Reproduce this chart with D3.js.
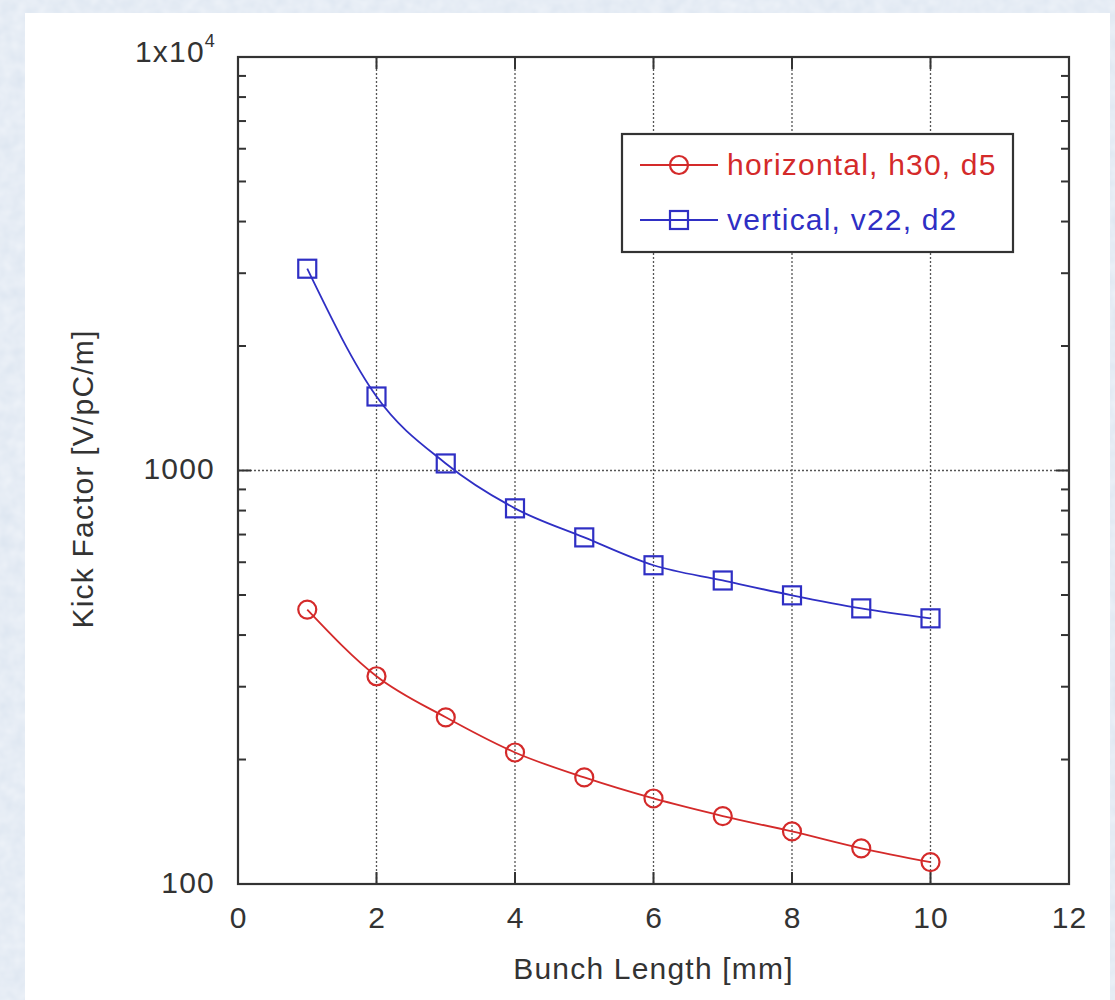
<!DOCTYPE html>
<html>
<head>
<meta charset="utf-8">
<script src="https://cdn.jsdelivr.net/npm/d3@7"></script>
<style>
  body { margin: 0; background: #e0e8f2; }
  svg { display: block; }
  text { font-family: "Liberation Sans", Arial, sans-serif; fill: #333; letter-spacing: 1.2px; }
</style>
</head>
<body>
<div id="chart"></div>
<script>
// bunch length [mm]
var bunchLength = [1, 2, 3, 4, 5, 6, 7, 8, 9, 10];
// kick factor [V/pC/m]
var horizontal = [461, 318, 253, 208, 181, 161, 146, 134, 122, 113];
var vertical = [3076, 1510, 1040, 810, 689, 590, 542, 499, 464, 439];
var xTicks = [0, 2, 4, 6, 8, 10, 12];
var yMajor = [100, 1000, 10000];
var seriesNames = ['horizontal, h30, d5', 'vertical, v22, d2'];

var width = 1115, height = 1000;
var margin = {left: 238, top: 57, right: 1069, bottom: 884};
var fs = 30;

var svg = d3.select('#chart').append('svg')
    .attr('width', width)
    .attr('height', height);

// paper-ish background + white panel
var defs = svg.append('defs');
var filt = defs.append('filter').attr('id', 'noise');
filt.append('feTurbulence').attr('type', 'fractalNoise').attr('baseFrequency', 0.08).attr('numOctaves', 2).attr('result', 'n');
filt.append('feColorMatrix').attr('type', 'matrix')
    .attr('values', '0 0 0 0 0.97  0 0 0 0 0.98  0 0 0 0 1  0 0 0 0.6 0');
svg.append('rect').attr('width', width).attr('height', height).attr('fill', '#dce5f0');
svg.append('rect').attr('width', width).attr('height', height).attr('filter', 'url(#noise)');
svg.append('rect').attr('x', 25).attr('y', 13).attr('width', 1085).attr('height', 990).attr('fill', '#fff');

var x = d3.scaleLinear().domain([0, 12]).range([margin.left, margin.right]);
var y = d3.scaleLog().domain([100, 10000]).range([margin.bottom, margin.top]);

var minorY = [];
[100, 1000].forEach(function (d) {
    for (var k = 2; k <= 9; k++) minorY.push(d * k);
});

// grid
var grid = svg.append('g').attr('stroke', '#555').attr('stroke-width', 1.3).attr('stroke-dasharray', '2,2');
grid.selectAll('line.gx').data(xTicks.slice(1, -1)).enter().append('line')
    .attr('x1', function (d) { return x(d); }).attr('x2', function (d) { return x(d); })
    .attr('y1', margin.top).attr('y2', margin.bottom);
grid.selectAll('line.gy').data([1000]).enter().append('line')
    .attr('x1', margin.left).attr('x2', margin.right)
    .attr('y1', function (d) { return y(d); }).attr('y2', function (d) { return y(d); });

// ticks (inward, all four sides)
var ticks = svg.append('g').attr('stroke', '#333').attr('stroke-width', 2);
xTicks.slice(1, -1).forEach(function (d) {
    ticks.append('line').attr('x1', x(d)).attr('x2', x(d)).attr('y1', margin.bottom).attr('y2', margin.bottom - 12);
    ticks.append('line').attr('x1', x(d)).attr('x2', x(d)).attr('y1', margin.top).attr('y2', margin.top + 12);
});
yMajor.forEach(function (d) {
    ticks.append('line').attr('x1', margin.left).attr('x2', margin.left + 13).attr('y1', y(d)).attr('y2', y(d));
    ticks.append('line').attr('x1', margin.right).attr('x2', margin.right - 13).attr('y1', y(d)).attr('y2', y(d));
});
minorY.forEach(function (d) {
    ticks.append('line').attr('x1', margin.left).attr('x2', margin.left + 8).attr('y1', y(d)).attr('y2', y(d));
    ticks.append('line').attr('x1', margin.right).attr('x2', margin.right - 8).attr('y1', y(d)).attr('y2', y(d));
});

// frame
svg.append('rect')
    .attr('x', margin.left).attr('y', margin.top)
    .attr('width', margin.right - margin.left).attr('height', margin.bottom - margin.top)
    .attr('fill', 'none').attr('stroke', '#333').attr('stroke-width', 2.2);

// tick labels
svg.append('g').selectAll('text').data(xTicks).enter().append('text')
    .attr('x', function (d) { return x(d) + 0.6; })
    .attr('y', margin.bottom + 44)
    .attr('text-anchor', 'middle')
    .attr('font-size', fs)
    .text(function (d) { return d; });

svg.append('text').attr('x', margin.left - 23).attr('y', y(100) + 9)
    .attr('text-anchor', 'end').attr('font-size', fs).text('100');
svg.append('text').attr('x', margin.left - 23).attr('y', y(1000) + 8)
    .attr('text-anchor', 'end').attr('font-size', fs).text('1000');
var t4 = svg.append('text').attr('x', margin.left - 22).attr('y', y(10000) + 5)
    .attr('text-anchor', 'end').attr('font-size', fs);
t4.append('tspan').text('1x10');
t4.append('tspan').attr('font-size', 18).attr('dy', -15).text('4');

// axis titles
svg.append('text').attr('x', (margin.left + margin.right) / 2).attr('y', 979)
    .attr('text-anchor', 'middle').attr('font-size', fs).text('Bunch Length [mm]');
svg.append('text')
    .attr('transform', 'translate(93,479) rotate(-90)')
    .attr('text-anchor', 'middle').attr('font-size', fs).text('Kick Factor [V/pC/m]');

// series
var red = '#d42a2a', blue = '#2f2fc4';
var line = d3.line()
    .x(function (d, i) { return x(bunchLength[i]); })
    .y(function (d) { return y(d); })
    .curve(d3.curveMonotoneX);

svg.append('path').datum(horizontal).attr('d', line)
    .attr('fill', 'none').attr('stroke', red).attr('stroke-width', 1.8);
svg.append('path').datum(vertical).attr('d', line)
    .attr('fill', 'none').attr('stroke', blue).attr('stroke-width', 1.8);

svg.append('g').selectAll('circle').data(horizontal).enter().append('circle')
    .attr('cx', function (d, i) { return x(bunchLength[i]); })
    .attr('cy', function (d) { return y(d); })
    .attr('r', 9)
    .attr('fill', 'none').attr('stroke', red).attr('stroke-width', 2.2);

var sq = 18;
svg.append('g').selectAll('rect').data(vertical).enter().append('rect')
    .attr('x', function (d, i) { return x(bunchLength[i]) - sq / 2; })
    .attr('y', function (d) { return y(d) - sq / 2; })
    .attr('width', sq).attr('height', sq)
    .attr('fill', 'none').attr('stroke', blue).attr('stroke-width', 2.2);

// legend
var lg = svg.append('g');
lg.append('rect').attr('x', 622).attr('y', 134).attr('width', 391).attr('height', 118)
    .attr('fill', '#fff').attr('stroke', '#333').attr('stroke-width', 2.2);
var legendRows = [{name: seriesNames[0], color: red, y: 165, marker: 'circle'},
                  {name: seriesNames[1], color: blue, y: 220, marker: 'square'}];
legendRows.forEach(function (r) {
    lg.append('line').attr('x1', 640).attr('x2', 718).attr('y1', r.y).attr('y2', r.y)
        .attr('stroke', r.color).attr('stroke-width', 1.8);
    if (r.marker === 'circle') {
        lg.append('circle').attr('cx', 679).attr('cy', r.y).attr('r', 9)
            .attr('fill', 'none').attr('stroke', r.color).attr('stroke-width', 2.2);
    } else {
        lg.append('rect').attr('x', 679 - sq / 2).attr('y', r.y - sq / 2).attr('width', sq).attr('height', sq)
            .attr('fill', 'none').attr('stroke', r.color).attr('stroke-width', 2.2);
    }
    lg.append('text').attr('x', 727).attr('y', r.y + 10).attr('font-size', fs)
        .style('fill', r.color).text(r.name);
});
</script>
</body>
</html>
